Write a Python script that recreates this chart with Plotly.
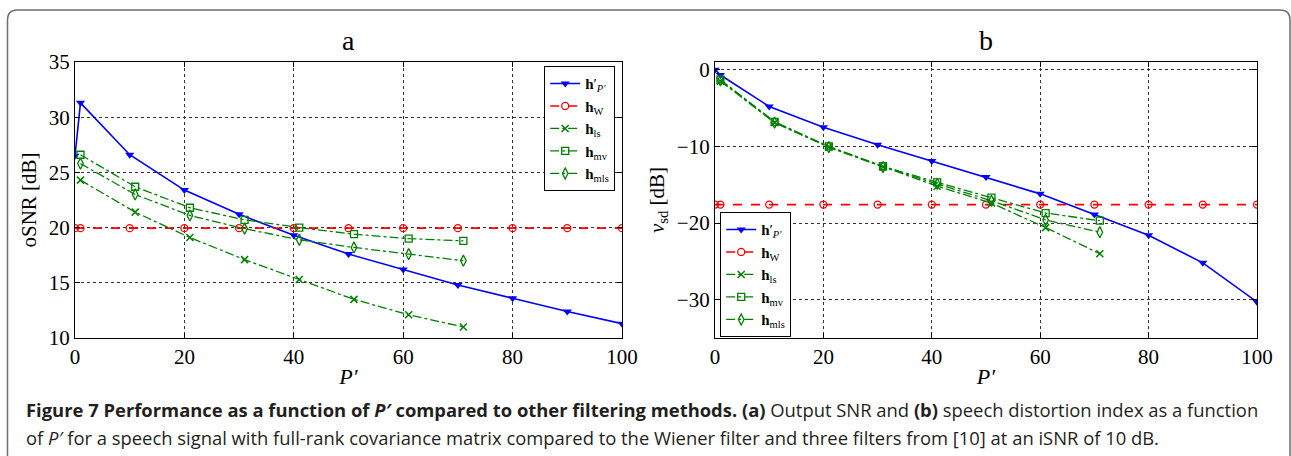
import plotly.graph_objects as go

W, H = 1291, 456

# ---- data -------------------------------------------------------------
p_prop = [0, 1, 10, 20, 30, 40, 50, 60, 70, 80, 90, 100]
p_ref = [1, 11, 21, 31, 41, 51, 61, 71]

# (a) output SNR [dB]
osnr_prop = [26.5, 31.3, 26.6, 23.4, 21.2, 19.3, 17.6, 16.2, 14.8, 13.6, 12.4, 11.3]
osnr_w = [19.95] * len(p_prop)
osnr_ls = [24.3, 21.4, 19.1, 17.1, 15.3, 13.5, 12.1, 11.0]
osnr_mv = [26.6, 23.7, 21.8, 20.7, 20.0, 19.4, 19.0, 18.8]
osnr_mls = [25.8, 23.0, 21.1, 19.9, 18.9, 18.2, 17.6, 17.0]

# (b) speech distortion index [dB]
vsd_prop = [0.0, -0.7, -4.8, -7.5, -9.8, -11.9, -14.0, -16.2, -18.9, -21.6, -25.2, -30.3]
vsd_w = [-17.6] * len(p_prop)
vsd_ls = [-1.5, -6.9, -10.1, -12.7, -15.2, -17.4, -20.6, -24.0]
vsd_mv = [-1.3, -6.8, -10.0, -12.6, -14.7, -16.7, -18.7, -19.7]
vsd_mls = [-1.4, -6.9, -10.1, -12.7, -14.9, -17.1, -19.6, -21.2]

names = [
    "<b>h</b>′<sub><i>P′</i></sub>",
    "<b>h</b><sub>W</sub>",
    "<b>h</b><sub>ls</sub>",
    "<b>h</b><sub>mv</sub>",
    "<b>h</b><sub>mls</sub>",
]

SERIF = "Liberation Serif, Times New Roman, serif"
GREEN = "#008000"

styles = [
    dict(line=dict(color="#0000ff", width=1.6, dash="solid"),
         marker=dict(symbol="triangle-down", size=8, color="#0000ff")),
    dict(line=dict(color="#ff0000", width=1.6, dash="dash"),
         marker=dict(symbol="circle-open", size=7, color="#ff0000", line=dict(width=1.3))),
    dict(line=dict(color=GREEN, width=1.3, dash="dashdot"),
         marker=dict(symbol="x-thin-open", size=7, color=GREEN, line=dict(width=1.5))),
    dict(line=dict(color=GREEN, width=1.3, dash="dashdot"),
         marker=dict(symbol="square-open", size=7, color=GREEN, line=dict(width=1.3))),
    dict(line=dict(color=GREEN, width=1.3, dash="dashdot"),
         marker=dict(symbol="diamond-tall-open", size=8, color=GREEN, line=dict(width=1.3))),
]

fig = go.Figure()

panel_a = [(p_prop, osnr_prop), (p_prop, osnr_w), (p_ref, osnr_ls), (p_ref, osnr_mv), (p_ref, osnr_mls)]
panel_b = [(p_prop, vsd_prop), (p_prop, vsd_w), (p_ref, vsd_ls), (p_ref, vsd_mv), (p_ref, vsd_mls)]

for (x, y), nm, st in zip(panel_a, names, styles):
    fig.add_trace(go.Scatter(x=x, y=y, mode="lines+markers", name=nm,
                             xaxis="x", yaxis="y", legend="legend", **st))
for (x, y), nm, st in zip(panel_b, names, styles):
    fig.add_trace(go.Scatter(x=x, y=y, mode="lines+markers", name=nm,
                             xaxis="x2", yaxis="y2", legend="legend2", **st))

def px_x(v):
    return v / W

def px_y(v):
    return 1 - v / H

axis_common = dict(
    showline=True, linecolor="black", linewidth=1.2, mirror="ticks",
    ticks="inside", ticklen=5, tickcolor="black",
    showgrid=True, gridcolor="#333333", griddash="dot", gridwidth=1,
    zeroline=False, automargin=False,
    tickfont=dict(family=SERIF, size=21, color="black"),
)

x_title = dict(text="<i>P′</i>", font=dict(family=SERIF, size=22, color="black"), standoff=0)

legend_common = dict(bgcolor="white", bordercolor="black", borderwidth=1.2,
                     font=dict(family=SERIF, size=15, color="black"),
                     tracegroupgap=0, itemwidth=30)

fig.update_layout(
    width=W, height=H,
    margin=dict(l=0, r=0, t=0, b=0),
    paper_bgcolor="white", plot_bgcolor="white",
    xaxis=dict(domain=[px_x(75), px_x(622)], range=[0, 100], tickvals=[0, 20, 40, 60, 80, 100],
               anchor="y", title=x_title, **axis_common),
    yaxis=dict(domain=[px_y(338), px_y(62)], range=[10, 35], tickvals=[10, 15, 20, 25, 30, 35],
               anchor="x", title=dict(text="oSNR [dB]", font=dict(family=SERIF, size=21, color="black"),
                                      standoff=6), **axis_common),
    xaxis2=dict(domain=[px_x(715), px_x(1257)], range=[0, 100], tickvals=[0, 20, 40, 60, 80, 100],
                anchor="y2", title=x_title, **axis_common),
    yaxis2=dict(domain=[px_y(338), px_y(62)], range=[-35, 1], tickvals=[-30, -20, -10, 0],
                ticktext=["−30", "−20", "−10", "0"],
                anchor="x2", title=dict(text="<i>v</i><sub>sd</sub> [dB]",
                                        font=dict(family=SERIF, size=21, color="black"),
                                        standoff=6), **axis_common),
    legend=dict(x=px_x(615), xanchor="right", y=px_y(66), yanchor="top", **legend_common),
    legend2=dict(x=px_x(720), xanchor="left", y=px_y(337), yanchor="bottom", **legend_common),
    showlegend=True,
)

# panel letters
for cx, letter in [((75 + 622) / 2, "a"), ((715 + 1257) / 2, "b")]:
    fig.add_annotation(x=px_x(cx), y=px_y(40), xref="paper", yref="paper",
                       xanchor="center", yanchor="middle",
                       text=letter, showarrow=False,
                       font=dict(family=SERIF, size=28, color="black"))

# caption
CAP = "Open Sans, Noto Sans, sans-serif"
line1 = ("<b>Figure 7 Performance as a function of <i>P′</i> compared to other filtering methods. (a)</b>"
         " Output SNR and <b>(b)</b> speech distortion index as a function")
line2 = ("of <i>P′</i> for a speech signal with full-rank covariance matrix compared to the Wiener filter "
         "and three filters from [10] at an iSNR of 10 dB.")
for ty, txt in [(409, line1), (437, line2)]:
    fig.add_annotation(x=px_x(24), y=px_y(ty), xref="paper", yref="paper",
                       xanchor="left", yanchor="middle", text=txt, showarrow=False,
                       font=dict(family=CAP, size=18.4, color="#231f20"))

# rounded frame around the figure
x0, y0, x1, y1, r = px_x(7.5), px_y(10), px_x(1290), px_y(470), 10
rx, ry = r / W, r / H
path = (f"M {x0},{y1} L {x0},{y0 - ry} Q {x0},{y0} {x0 + rx},{y0} "
        f"L {x1 - rx},{y0} Q {x1},{y0} {x1},{y0 - ry} L {x1},{y1}")
fig.add_shape(type="path", path=path, xref="paper", yref="paper",
              line=dict(color="#6e6e6e", width=1.5), layer="below")

fig.write_html("out.html")
